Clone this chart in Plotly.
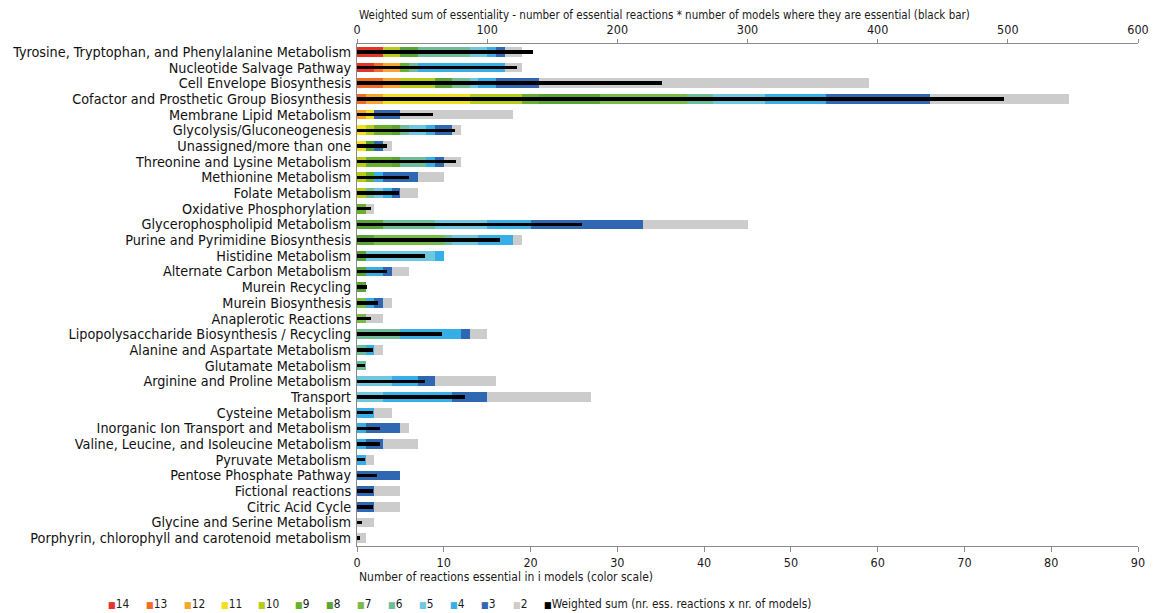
import plotly.graph_objects as go

# Metabolic subsystems (top to bottom)
subsystems = [
    "Tyrosine, Tryptophan, and Phenylalanine Metabolism",
    "Nucleotide Salvage Pathway",
    "Cell Envelope Biosynthesis",
    "Cofactor and Prosthetic Group Biosynthesis",
    "Membrane Lipid Metabolism",
    "Glycolysis/Gluconeogenesis",
    "Unassigned/more than one",
    "Threonine and Lysine Metabolism",
    "Methionine Metabolism",
    "Folate Metabolism",
    "Oxidative Phosphorylation",
    "Glycerophospholipid Metabolism",
    "Purine and Pyrimidine Biosynthesis",
    "Histidine Metabolism",
    "Alternate Carbon Metabolism",
    "Murein Recycling",
    "Murein Biosynthesis",
    "Anaplerotic Reactions",
    "Lipopolysaccharide Biosynthesis / Recycling",
    "Alanine and Aspartate Metabolism",
    "Glutamate Metabolism",
    "Arginine and Proline Metabolism",
    "Transport",
    "Cysteine Metabolism",
    "Inorganic Ion Transport and Metabolism",
    "Valine, Leucine, and Isoleucine Metabolism",
    "Pyruvate Metabolism",
    "Pentose Phosphate Pathway",
    "Fictional reactions",
    "Citric Acid Cycle",
    "Glycine and Serine Metabolism",
    "Porphyrin, chlorophyll and carotenoid metabolism",
]

# Number of reactions essential in exactly i models, per subsystem
ess_14 = [3, 2, 0, 0, 0, 0, 0, 0, 0, 0, 0, 0, 0, 0, 0, 0, 0, 0, 0, 0, 0, 0, 0, 0, 0, 0, 0, 0, 0, 0, 0, 0]
ess_13 = [0, 1, 3, 1, 0, 0, 0, 0, 0, 0, 0, 0, 0, 0, 0, 0, 0, 0, 0, 0, 0, 0, 0, 0, 0, 0, 0, 0, 0, 0, 0, 0]
ess_12 = [0, 2, 2, 2, 1, 0, 0, 0, 0, 0, 0, 0, 0, 0, 0, 0, 0, 0, 0, 0, 0, 0, 0, 0, 0, 0, 0, 0, 0, 0, 0, 0]
ess_11 = [0, 0, 0, 10, 1, 1, 1, 0, 0, 0, 0, 0, 0, 0, 0, 0, 0, 0, 0, 0, 0, 0, 0, 0, 0, 0, 0, 0, 0, 0, 0, 0]
ess_10 = [2, 0, 4, 6, 0, 1, 0, 1, 1, 1, 0, 0, 0, 0, 0, 0, 0, 0, 0, 0, 0, 0, 0, 0, 0, 0, 0, 0, 0, 0, 0, 0]
ess_9 = [0, 1, 0, 2, 0, 2, 0, 3, 1, 0, 1, 0, 0, 0, 0, 0, 0, 0, 0, 0, 0, 0, 0, 0, 0, 0, 0, 0, 0, 0, 0, 0]
ess_8 = [2, 0, 2, 7, 0, 1, 1, 1, 0, 0, 0, 3, 2, 1, 1, 1, 0, 0, 0, 0, 0, 0, 0, 0, 0, 0, 0, 0, 0, 0, 0, 0]
ess_7 = [0, 0, 0, 10, 0, 0, 0, 0, 0, 0, 0, 0, 8, 0, 0, 0, 1, 1, 0, 0, 0, 0, 0, 0, 0, 0, 0, 0, 0, 0, 0, 0]
ess_6 = [6, 1, 2, 3, 0, 1, 0, 3, 0, 1, 0, 6, 1, 0, 0, 0, 0, 0, 5, 1, 1, 0, 0, 0, 0, 0, 0, 0, 0, 0, 0, 0]
ess_5 = [2, 0, 1, 6, 0, 2, 0, 0, 0, 1, 0, 6, 3, 8, 0, 0, 0, 0, 0, 0, 0, 4, 3, 0, 0, 0, 0, 0, 0, 0, 0, 0]
ess_4 = [1, 10, 2, 7, 0, 1, 0, 1, 1, 1, 0, 5, 4, 1, 2, 0, 1, 0, 7, 1, 0, 3, 8, 2, 1, 1, 1, 0, 0, 0, 0, 0]
ess_3 = [1, 0, 5, 12, 3, 2, 1, 1, 4, 1, 0, 13, 0, 0, 1, 0, 1, 0, 1, 0, 0, 2, 4, 0, 4, 2, 0, 5, 2, 2, 0, 0]
ess_2 = [2, 2, 38, 16, 13, 1, 1, 2, 3, 2, 1, 12, 1, 0, 2, 0, 1, 2, 2, 1, 0, 7, 12, 2, 1, 4, 1, 0, 3, 3, 2, 1]

# Weighted sum: essential reactions x number of models where they are essential
weighted_sum = [135, 123, 234, 497, 58, 75, 23, 76, 40, 32, 11, 173, 110, 52, 23, 8,
                16, 11, 65, 12, 6, 52, 83, 12, 18, 18, 6, 15, 12, 12, 4, 2]

levels = ["14", "13", "12", "11", "10", "9", "8", "7", "6", "5", "4", "3", "2"]
level_values = [ess_14, ess_13, ess_12, ess_11, ess_10, ess_9, ess_8, ess_7,
                ess_6, ess_5, ess_4, ess_3, ess_2]
level_colors = ["#e8322b", "#f06b24", "#f8a629", "#f3e01c", "#b7cc17", "#69b02e",
                "#58a536", "#78bc45", "#6cbd98", "#6ec8df", "#36aee8", "#2f67b2", "#cccccc"]

FONT = "DejaVu Sans Condensed, Liberation Sans Narrow, Arial Narrow, sans-serif"
AXIS_GREY = "#8a8a8a"

fig = go.Figure()

for name, vals, col in zip(levels, level_values, level_colors):
    fig.add_trace(go.Bar(
        y=subsystems, x=vals, name=name, orientation="h",
        marker=dict(color=col, line=dict(width=0)),
        width=0.62, xaxis="x", yaxis="y",
    ))

fig.add_trace(go.Bar(
    y=subsystems, x=weighted_sum, orientation="h",
    name="Weighted sum (nr. ess. reactions x nr. of models)",
    marker=dict(color="#000000", line=dict(width=0)),
    width=0.22, xaxis="x2", yaxis="y",
))

fig.update_layout(
    width=1157, height=613,
    margin=dict(l=357, r=19, t=44, b=67),
    paper_bgcolor="white", plot_bgcolor="white",
    barmode="stack", showlegend=False,
    font=dict(family=FONT, color="#1a1a1a"),
    xaxis=dict(
        range=[0, 90], dtick=10, showgrid=False, zeroline=False,
        showline=True, linecolor=AXIS_GREY, linewidth=1,
        ticks="outside", ticklen=5, tickcolor=AXIS_GREY,
        tickfont=dict(size=12.5, family=FONT), automargin=False,
    ),
    xaxis2=dict(
        range=[0, 600], dtick=100, overlaying="x", side="top",
        showgrid=False, zeroline=False,
        showline=True, linecolor=AXIS_GREY, linewidth=1,
        ticks="outside", ticklen=4, tickcolor=AXIS_GREY,
        tickfont=dict(size=12.5, family=FONT), automargin=False,
    ),
    yaxis=dict(
        categoryorder="array", categoryarray=subsystems, autorange="reversed",
        tickmode="array", tickvals=subsystems, ticktext=subsystems,
        showgrid=False, zeroline=False,
        showline=True, linecolor=AXIS_GREY, linewidth=1,
        ticks="", ticklabelstandoff=2, automargin=False,
        tickfont=dict(size=14.3, family=FONT, color="#111111"),
    ),
)

# Axis titles, left-aligned at the plot edge
fig.add_annotation(
    text="Weighted sum of essentiality - number of essential reactions * number of models where they are essential (black bar)",
    xref="paper", yref="paper", x=0, y=1.058, xanchor="left", yanchor="middle",
    showarrow=False, font=dict(size=11.5, family=FONT, color="#1a1a1a"),
)
fig.add_annotation(
    text="Number of reactions essential in i models (color scale)",
    xref="paper", yref="paper", x=0, y=-0.062, xanchor="left", yanchor="middle",
    showarrow=False, font=dict(size=12, family=FONT, color="#1a1a1a"),
)

# Colour key below the chart
key_labels = levels + ["Weighted sum (nr. ess. reactions x nr. of models)"]
key_colors = level_colors + ["#000000"]
key_px = [106, 144, 182, 219, 256, 293, 324, 355, 386, 417, 448, 479, 511, 542]
plot_left, plot_width = 357, 781
for lab, col, px in zip(key_labels, key_colors, key_px):
    fig.add_annotation(
        text=f'<span style="color:{col};font-size:9px">■</span>{lab}',
        xref="paper", yref="paper", x=(px - plot_left) / plot_width, y=-0.1155,
        xanchor="left", yanchor="middle", showarrow=False,
        font=dict(size=11.8, family=FONT, color="#1a1a1a"),
    )

fig.write_html("out.html")
